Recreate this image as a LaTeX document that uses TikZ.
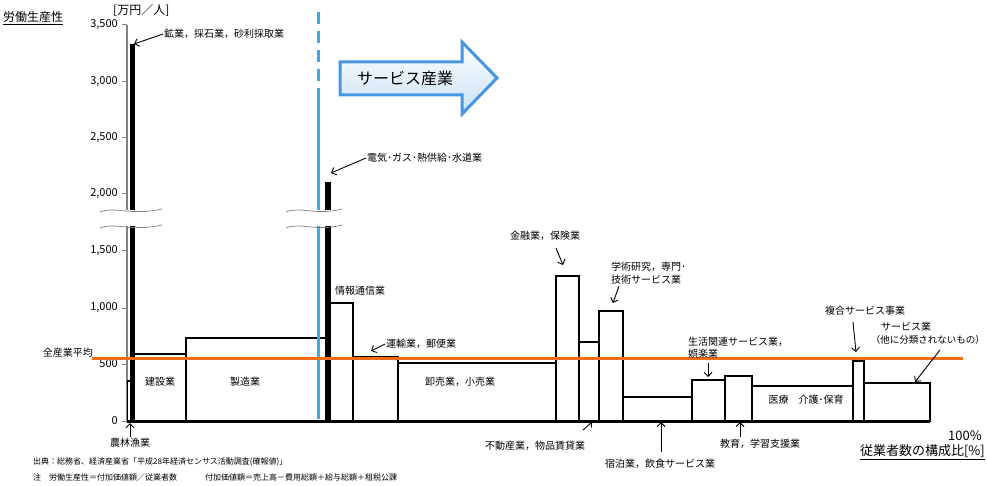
\documentclass[tikz,border=0pt]{standalone}
\usepackage{fontspec}
\setmainfont{Noto Sans CJK JP}
\usetikzlibrary{arrows.meta}
\begin{document}
\begin{tikzpicture}[x=1pt,y=-1pt,
  bar/.style={draw=black,line width=2.4pt,fill=white},
  lbl/.style={font=\fontsize{10}{12}\selectfont,inner sep=1pt},
  ptr/.style={-{Straight Barb[length=4pt,width=8pt]},line width=0.9pt},
  tick/.style={font=\fontsize{11}{13}\selectfont,anchor=east,inner sep=1pt}]
\useasboundingbox (0,0) rectangle (987,486);
% axis
\draw[gray,line width=1.2pt] (127,25) -- (127,421);
\foreach \v/\y/\t in {0/421/0,500/364/500,1000/308/{1,000},1500/251/{1,500},2000/194/{2,000},2500/138/{2,500},3000/82/{3,000},3500/25/{3,500}}{
  \draw[gray,line width=1pt] (122,\y) -- (127,\y);
  \node[tick] (t\v) at (119,\y) {\t};}
% bars
\draw[bar,line width=1.4pt] (127.5,421) rectangle (130.5,381);
\draw[bar,fill=black,line width=1.6pt] (131,421) rectangle (134,45);
\draw[bar] (134,421) rectangle (186,354);
\draw[bar] (186,421) rectangle (326,338);
\draw[bar,fill=black,line width=1.6pt] (326,421) rectangle (330,183);
\draw[bar] (330,421) rectangle (353,303);
\draw[bar] (353,421) rectangle (398,357);
\draw[bar] (398,421) rectangle (556,363);
\draw[bar] (556,421) rectangle (579,276);
\draw[bar] (579,421) rectangle (599,342);
\draw[bar] (599,421) rectangle (623,311);
\draw[bar] (623,421) rectangle (692,397);
\draw[bar] (692,421) rectangle (725,380);
\draw[bar] (725,421) rectangle (752,376);
\draw[bar] (752,421) rectangle (853,386);
\draw[bar] (853,421) rectangle (864,361);
\draw[bar] (864,421) rectangle (930,383);
\draw[line width=3pt] (127,421) -- (930,421);
% blue divider
\draw[color={rgb,255:red,60;green,170;blue,230},line width=3pt,dash pattern=on 12pt off 7pt] (318,12) -- (318,100);
\draw[color={rgb,255:red,60;green,170;blue,230},line width=3pt] (318,100) -- (318,419);
% breaks
\foreach \a/\b in {100/162,286/342}{
  \fill[white] (\a,210) rectangle (\b,226);
  \draw[gray,line width=0.7pt] (\a,212) .. controls (\a+15,206) and (\a+30,216) .. (\b,209);
  \draw[gray,line width=0.7pt] (\a,228) .. controls (\a+15,222) and (\a+30,232) .. (\b,225);}
% orange average line
\draw[color={rgb,255:red,245;green,110;blue,20},line width=3pt] (92,358) -- (963,358);
\node[lbl,anchor=east] (avg) at (94,353) {全産業平均};
% service arrow
\shade[top color=white,bottom color={rgb,255:red,200;green,225;blue,245},draw={rgb,255:red,70;green,150;blue,225},line width=3pt]
 (340,62) -- (462,62) -- (462,42) -- (497,78) -- (462,114) -- (462,95) -- (340,95) -- cycle;
\node[font=\fontsize{16}{18}\selectfont] (svc) at (405,78) {サービス産業};
% titles
\node[anchor=west,font=\fontsize{12}{14}\selectfont,inner sep=0pt] (ttl) at (3,18) {\underline{労働生産性}};
\node[anchor=west,font=\fontsize{12}{14}\selectfont,inner sep=0pt] (unit) at (113,10) {[万円／人]};
\node[anchor=east,font=\fontsize{13}{15}\selectfont,inner sep=0pt] (pct) at (982,436) {100\%};
\node[anchor=east,font=\fontsize{13}{15}\selectfont,inner sep=0pt] (xl) at (985,452) {\underline{従業者数の構成比[\%]}};
% labels in bars
\node[lbl] (l1) at (160,382) {建設業};
\node[lbl] (l2) at (245,382) {製造業};
\node[lbl] (l3) at (460,382) {卸売業，小売業};
\node[lbl] (l4) at (806,400) {医療\quad 介護･保育};
% pointer labels
\node[lbl,anchor=west] (m1) at (163,34) {鉱業，採石業，砂利採取業};
\coordinate (m1t) at (134,44); \draw[ptr] (m1.west) -- (m1t);
\node[lbl,anchor=west] (m2) at (366,158) {電気･ガス･熱供給･水道業};
\coordinate (m2t) at (331,173); \draw[ptr] (m2.west) -- (m2t);
\node[lbl,anchor=west] (m3) at (334,291) {情報通信業};
\node[lbl,anchor=west] (m4) at (385,344) {運輸業，郵便業};
\coordinate (m4t) at (371,351); \draw[ptr] (m4.west) -- (m4t);
\node[lbl] (m5) at (130,443) {農林漁業};
\coordinate (m5t) at (130,423); \draw[ptr] (m5.north) -- (m5t);
\node[lbl] (m6) at (545,236) {金融業，保険業};
\coordinate (m6t) at (563,265); \draw[ptr] (556,248) -- (m6t);
\node[lbl,anchor=west] (m7) at (610,267) {学術研究，専門･};
\node[lbl,anchor=west] (m7b) at (610,280) {技術サービス業};
\coordinate (m7t) at (613,303); \draw[ptr] (619,286) -- (m7t);
\node[lbl] (m8) at (535,446) {不動産業，物品賃貸業};
\coordinate (m8t) at (592,422); \draw[ptr] (583,430) -- (m8t);
\node[lbl] (m9) at (660,464) {宿泊業，飲食サービス業};
\coordinate (m9t) at (661,422); \draw[ptr] (661,452) -- (m9t);
\node[lbl,anchor=west] (m10) at (687,342) {生活関連サービス業，};
\node[lbl,anchor=west] (m10b) at (687,354) {娯楽業};
\coordinate (m10t) at (708,377); \draw[ptr] (708,363) -- (m10t);
\node[lbl] (m11) at (760,444) {教育，学習支援業};
\coordinate (m11t) at (740,422); \draw[ptr] (740,437) -- (m11t);
\node[lbl] (m12) at (865,311) {複合サービス事業};
\coordinate (m12t) at (856,352); \draw[ptr] (853,322) -- (m12t);
\node[lbl,anchor=west] (m13) at (880,327) {サービス業};
\node[lbl,anchor=east,font=\fontsize{9.5}{11}\selectfont] (m13b) at (986,340) {（他に分類されないもの）};
\coordinate (m13t) at (915,382); \draw[ptr] (940,350) -- (m13t);
% footnotes
\node[anchor=west,font=\fontsize{8}{10}\selectfont,inner sep=0pt] (f1) at (33,462) {出典：総務省、経済産業省「平成28年経済センサス活動調査(確報値)」};
\node[anchor=west,font=\fontsize{8}{10}\selectfont,inner sep=0pt] (f2) at (33,477) {注\quad 労働生産性＝付加価値額／従業者数\hspace{3.5em}付加価値額＝売上高－費用総額＋給与総額＋租税公課};
\end{tikzpicture}
\end{document}
